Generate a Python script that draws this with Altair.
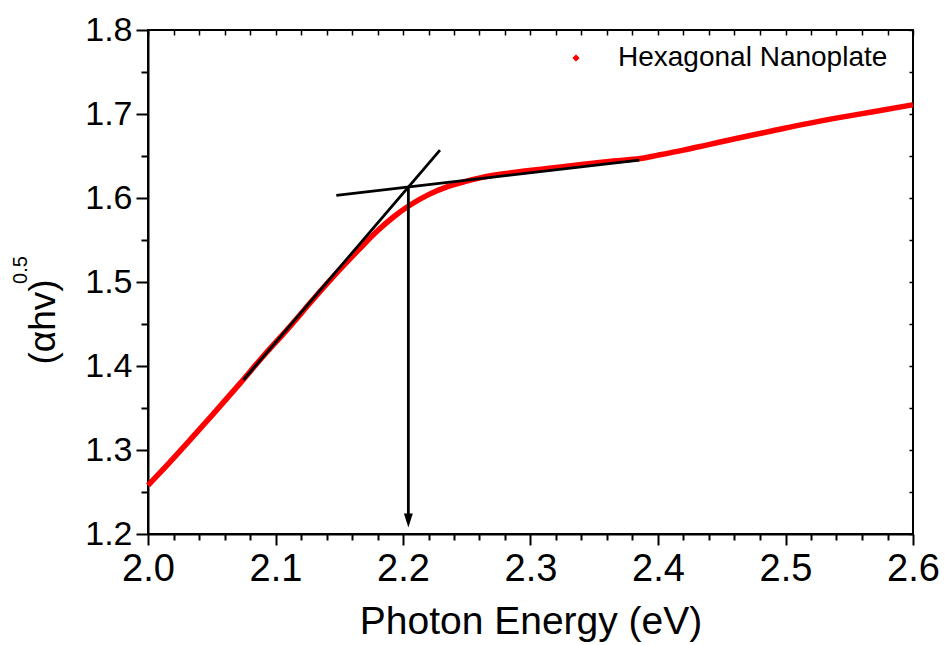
import altair as alt
import pandas as pd

# Red measured curve (Photon energy, (αhv)^0.5)
energy = [2.000, 2.015, 2.033, 2.050, 2.072, 2.090, 2.109, 2.130, 2.150, 2.165,
          2.180, 2.193, 2.205, 2.220, 2.235, 2.250, 2.262, 2.285, 2.313, 2.340,
          2.365, 2.386, 2.400, 2.420, 2.438, 2.465, 2.490, 2.515, 2.543, 2.570, 2.600]
value = [1.258, 1.282, 1.312, 1.341, 1.379, 1.411, 1.443, 1.480, 1.514, 1.538,
         1.561, 1.578, 1.591, 1.604, 1.6135, 1.620, 1.6245, 1.630, 1.635, 1.640,
         1.644, 1.647, 1.651, 1.657, 1.663, 1.672, 1.680, 1.688, 1.696, 1.703, 1.711]
series_name = "Hexagonal Nanoplate"

# Tangent lines (two segments)
tan_seg = ["steep", "steep", "flat", "flat"]
tan_x = [2.0748, 2.229, 2.1477, 2.3853]
tan_y = [1.3833, 1.657, 1.6032, 1.6452]

# Arrow marking the band gap
arrow_x = [2.2042]
arrow_y_top = [1.6143]
arrow_y_bottom = [1.216]

# Axis tick values
x_major = [2.0, 2.1, 2.2, 2.3, 2.4, 2.5, 2.6]
x_all = [round(2.0 + 0.02 * i, 2) for i in range(31)]
x_minor = [v for v in x_all if all(abs(v - m) > 1e-6 for m in x_major)]
y_major = [1.2, 1.3, 1.4, 1.5, 1.6, 1.7, 1.8]
y_all = [round(1.2 + 0.05 * i, 2) for i in range(13)]
y_minor = [v for v in y_all if all(abs(v - m) > 1e-6 for m in y_major)]

curve = pd.DataFrame({"E": energy, "v": value, "series": series_name})
tang = pd.DataFrame({"seg": tan_seg, "E": tan_x, "v": tan_y})
arrow = pd.DataFrame({"E": arrow_x, "v": arrow_y_top, "v2": arrow_y_bottom})

FONT = "Liberation Sans"
xs = alt.Scale(domain=[2.0, 2.6], nice=False, zero=False)
ys = alt.Scale(domain=[1.2, 1.8], nice=False, zero=False)

x_axis = alt.Axis(
    values=x_major, format=".1f", ticks=True, tickSize=11,
    tickWidth=2, tickColor="black", domainWidth=2, domainColor="black",
    labelFontSize=38, labelFont=FONT, labelColor="black", labelPadding=5,
    labelFlush=False, labelOverlap=False, grid=False, title="Photon Energy (eV)",
    titleFontSize=39, titleFont=FONT, titleFontWeight="normal", titleColor="black",
    titlePadding=14,
)
y_axis = alt.Axis(
    values=y_major, format=".1f", ticks=True, tickSize=12,
    tickWidth=2, tickColor="black", domainWidth=2, domainColor="black",
    labelFontSize=34, labelFont=FONT, labelColor="black", labelPadding=4,
    labelFlush=False, labelOverlap=False, grid=False, title=None,
)
x_minor_axis = alt.Axis(values=x_minor, labels=False, domain=False, ticks=True,
                        tickSize=6, tickWidth=2, tickColor="black",
                        grid=False, title=None, orient="bottom")
y_minor_axis = alt.Axis(values=y_minor, labels=False, domain=False, ticks=True,
                        tickSize=7, tickWidth=2, tickColor="black",
                        grid=False, title=None, orient="left")

curve_layer = alt.Chart(curve).mark_line(strokeWidth=5.5, interpolate="monotone").encode(
    x=alt.X("E:Q", scale=xs, axis=x_axis),
    y=alt.Y("v:Q", scale=ys, axis=y_axis),
    color=alt.Color("series:N",
                    scale=alt.Scale(domain=[series_name], range=["#ff0000"]),
                    legend=alt.Legend(orient="none", legendX=414, legendY=14,
                                      title=None, symbolType="diamond",
                                      symbolFillColor="#ff0000",
                                      symbolStrokeColor="#ff0000",
                                      symbolSize=40, symbolStrokeWidth=1,
                                      labelFontSize=28, labelFont=FONT,
                                      labelColor="black", labelOffset=28,
                                      labelLimit=500, padding=0)),
)

tang_layer = alt.Chart(tang).mark_line(color="black", strokeWidth=2.8).encode(
    x=alt.X("E:Q", scale=xs,
            axis=alt.Axis(orient="top", values=x_all, labels=False, domain=False,
                          ticks=True, tickSize=5, offset=-5, tickWidth=1.5,
                          tickColor="black", grid=False, title=None)),
    y=alt.Y("v:Q", scale=ys,
            axis=alt.Axis(orient="right", values=y_all, labels=False, domain=False,
                          ticks=True, tickSize=4, offset=-4, tickWidth=1.5,
                          tickColor="black", grid=False, title=None)),
    detail="seg:N",
)

arrow_rule = alt.Chart(arrow).mark_rule(color="black", strokeWidth=2.8).encode(
    x=alt.X("E:Q", scale=xs, axis=x_minor_axis),
    y=alt.Y("v:Q", scale=ys, axis=y_minor_axis),
    y2="v2:Q",
)
arrow_head = alt.Chart(arrow).mark_point(
    shape="M-0.64,-1L0.64,-1L0,1Z", size=196, filled=True, color="black", opacity=1
).encode(
    x=alt.X("E:Q", scale=xs, axis=None),
    y=alt.Y("v2:Q", scale=ys, axis=None),
)

ytitle = alt.Chart(pd.DataFrame({"t": ["(αhv)"]})).mark_text(
    angle=270, fontSize=37, font=FONT, color="black", align="center", baseline="middle"
).encode(x=alt.value(-104), y=alt.value(292), text="t:N")
ysup = alt.Chart(pd.DataFrame({"t": ["0.5"]})).mark_text(
    angle=270, fontSize=20, font=FONT, color="black", align="center", baseline="middle"
).encode(x=alt.value(-127), y=alt.value(240), text="t:N")

chart = alt.layer(curve_layer, tang_layer, arrow_rule, arrow_head, ytitle, ysup).resolve_axis(
    x="independent", y="independent"
).properties(
    width=765, height=504,
    autosize=alt.AutoSizeParams(type="none"),
    padding={"left": 140, "top": 22, "right": 27, "bottom": 111},
    background="white",
).configure_view(stroke="black", strokeWidth=2)

chart.save("out.html", embed_options={"renderer": "svg", "actions": False})
